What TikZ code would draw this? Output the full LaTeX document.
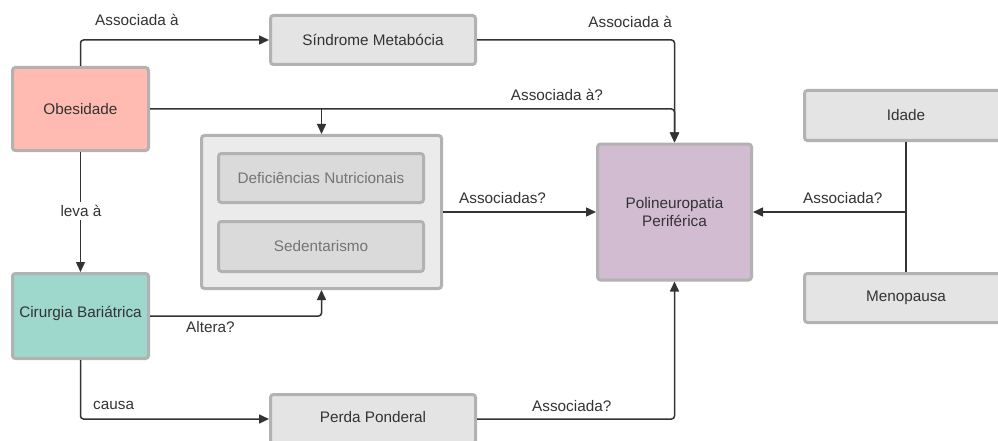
\documentclass[tikz,border=0pt]{standalone}
\usepackage{fontspec}
\setmainfont{Liberation Sans}
\usetikzlibrary{arrows.meta,calc}
\definecolor{linec}{HTML}{333333}
\definecolor{bord}{HTML}{B2B2B2}
\definecolor{greyf}{HTML}{E4E4E4}
\definecolor{groupf}{HTML}{EBEBEB}
\definecolor{innerf}{HTML}{DADADA}
\definecolor{innert}{HTML}{747474}
\definecolor{obesf}{HTML}{FFBBB1}
\definecolor{cirf}{HTML}{9ED7CC}
\definecolor{polif}{HTML}{D2BCD2}
\begin{document}
\begin{tikzpicture}[x=1pt,y=-1pt,
  every node/.style={font=\fontsize{15.3}{18}\selectfont, text=linec},
  box/.style={draw=bord, line width=3pt, rounded corners=3pt, inner sep=0pt, align=center},
  greybox/.style={box, fill=greyf, minimum width=205pt, minimum height=49pt},
  innerbox/.style={box, fill=innerf, minimum width=205pt, minimum height=49pt, text=innert},
  conn/.style={draw=linec, line width=1.5pt, rounded corners=3pt},
  arr/.style={conn, -{Triangle[length=10pt,width=9pt]}},
  lbl/.style={inner sep=1pt}]
\clip (0,0) rectangle (998,441);
\fill[white] (0,0) rectangle (998,441);
% nodes
\node[box, fill=obesf, minimum width=136pt, minimum height=83pt] (obes) at (80.5,109) {Obesidade};
\node[greybox] (sind) at (373,40) {Síndrome Metabócia};
\node[box, fill=groupf, minimum width=240pt, minimum height=153pt] (group) at (321.5,212) {};
\node[innerbox] (def) at (321,178) {Deficiências Nutricionais};
\node[innerbox, minimum height=50pt] (sed) at (321,246.5) {Sedentarismo};
\node[box, fill=polif, minimum width=154pt, minimum height=136pt] (poli) at (674.5,212) {Polineuropatia\\Periférica};
\node[greybox, minimum width=203pt, minimum height=50pt] (idade) at (906,115.5) {Idade};
\node[greybox, minimum width=203pt] (meno) at (906,298) {Menopausa};
\node[box, fill=cirf, minimum width=136pt, minimum height=85pt] (cir) at (80.5,316) {};
\node (cirt) at (80.5,313) {Cirurgia Bariátrica};
\node[greybox] (perda) at (373,419) {};
\node (perdat) at (373,417) {Perda Ponderal};
% connectors
\draw[arr] (obes.north) |- (sind.west);
\draw[arr] (sind.east) -| (poli.north);
\draw[arr] (obes.east) -| (poli.north);
\draw[arr] (obes.east -| group.north) -- (group.north);
\draw[arr] (obes.south) -- (cir.north);
\draw[arr] (cir.east) -| (group.south);
\draw[arr] (cir.south) |- (perda.west);
\draw[arr] (perda.east) -| (poli.south);
\draw[arr] (group.east) -- (poli.west);
\draw[conn] (idade.south) -- (meno.north);
\coordinate (j) at (idade.south |- poli.east);
\draw[arr] (j) -- (poli.east);
% labels
\node[lbl, anchor=west] (l1) at (94,20) {Associada à};
\node[lbl, anchor=east] (l2) at (673,22) {Associada à};
\node[lbl, anchor=east] (l3) at (604,95) {Associada à?};
\node[lbl, fill=white, inner sep=3pt] (l4) at (81,211) {leva à};
\node[lbl, anchor=west] (l5) at (185,327) {Altera?};
\node[lbl, anchor=west] (l6) at (92,405) {causa};
\node[lbl, anchor=west] (l7) at (531,406) {Associada?};
\node[lbl, anchor=west] (l8) at (458,198) {Associadas?};
\node[lbl, anchor=west] (l9) at (802,198) {Associada?};
\end{tikzpicture}
\end{document}
